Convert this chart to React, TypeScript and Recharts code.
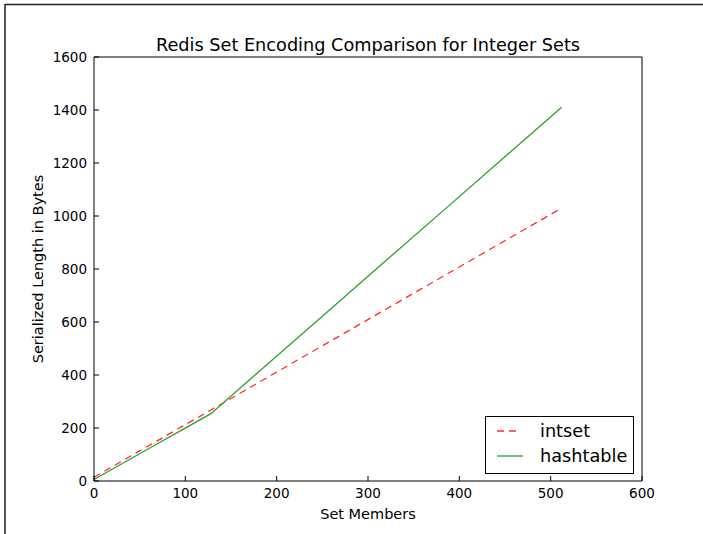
import React from 'react';
import { LineChart, Line, XAxis, YAxis, Legend } from 'recharts';

const intsetMembers = [0, 16, 32, 48, 64, 80, 96, 112, 128, 192, 256, 320, 384, 448, 512];
const intsetBytes = [14, 46, 78, 110, 141, 173, 205, 236, 268, 395, 522, 649, 776, 903, 1030];
const hashtableMembers = [0, 32, 64, 96, 128, 192, 256, 320, 384, 448, 512];
const hashtableBytes = [6, 68, 130, 192, 254, 447, 640, 833, 1025, 1218, 1410];
const xTicks = [0, 100, 200, 300, 400, 500, 600];
const yTicks = [0, 200, 400, 600, 800, 1000, 1200, 1400, 1600];
const seriesNames = ['intset', 'hashtable'];

const title = 'Redis Set Encoding Comparison for Integer Sets';
const xLabel = 'Set Members';
const yLabel = 'Serialized Length in Bytes';

const RED = '#ff2a2a';
const GREEN = '#2ca02c';
const FONT = '"DejaVu Sans", Verdana, sans-serif';

const intsetData = intsetMembers.map((m, i) => ({ members: m, bytes: intsetBytes[i] }));
const hashtableData = hashtableMembers.map((m, i) => ({ members: m, bytes: hashtableBytes[i] }));

const LegendBox = () => (
  <svg width={150} height={59} style={{ display: 'block' }}>
    <rect x={0.5} y={0.5} width={148} height={57} fill="#fff" stroke="#000" strokeWidth={1} />
    <line x1={12} x2={36} y1={15} y2={15} stroke={RED} strokeWidth={1.3} strokeDasharray="7 5" />
    <text x={55} y={15} dominantBaseline="central" fontSize={17.7} fontFamily={FONT} fill="#000">
      {seriesNames[0]}
    </text>
    <line x1={12} x2={38} y1={40} y2={40} stroke={GREEN} strokeWidth={1.3} />
    <text x={55} y={40} dominantBaseline="central" fontSize={17.7} fontFamily={FONT} fill="#000">
      {seriesNames[1]}
    </text>
  </svg>
);

const tickStyle = { fontSize: 13.5, fontFamily: FONT, fill: '#000' };

export default function App() {
  return (
    <div style={{ position: 'absolute', left: 0, top: 0, width: 703, height: 534, background: '#fff' }}>
      <LineChart
        width={703}
        height={534}
        margin={{ top: 27, right: 31, left: 0, bottom: 0 }}
        style={{ fontFamily: FONT }}
      >
        <XAxis
          xAxisId="x"
          dataKey="members"
          type="number"
          domain={[0, 600]}
          ticks={xTicks}
          allowDataOverflow
          height={53}
          tickSize={-5}
          tickMargin={12}
          stroke="#000"
          tick={tickStyle}
        />
        <XAxis
          xAxisId="xt"
          orientation="top"
          type="number"
          domain={[0, 600]}
          ticks={xTicks}
          allowDataOverflow
          height={30}
          tickSize={-5}
          tick={false}
          stroke="#000"
        />
        <YAxis
          yAxisId="y"
          type="number"
          domain={[0, 1600]}
          ticks={yTicks}
          allowDataOverflow
          width={94}
          tickSize={-5}
          tickMargin={12}
          stroke="#000"
          tick={tickStyle}
        />
        <YAxis
          yAxisId="yr"
          orientation="right"
          type="number"
          domain={[0, 1600]}
          ticks={yTicks}
          allowDataOverflow
          width={30}
          tickSize={-5}
          tick={false}
          stroke="#000"
        />
        <Line
          xAxisId="x"
          yAxisId="y"
          data={intsetData}
          dataKey="bytes"
          name={seriesNames[0]}
          type="linear"
          stroke={RED}
          strokeWidth={1.3}
          strokeDasharray="7 5"
          dot={false}
          isAnimationActive={false}
        />
        <Line
          xAxisId="x"
          yAxisId="y"
          data={hashtableData}
          dataKey="bytes"
          name={seriesNames[1]}
          type="linear"
          stroke={GREEN}
          strokeWidth={1.3}
          dot={false}
          isAnimationActive={false}
        />
        <Legend
          layout="horizontal"
          verticalAlign="middle"
          align="center"
          content={() => <LegendBox />}
          wrapperStyle={{ position: 'absolute', left: 485, top: 416, width: 150, height: 59 }}
        />
      </LineChart>
      <svg
        width={703}
        height={534}
        style={{ position: 'absolute', left: 0, top: 0, pointerEvents: 'none' }}
      >
        <line x1={5} x2={703} y1={4.5} y2={4.5} stroke="#222" strokeWidth={1.5} />
        <line x1={5} x2={5} y1={4} y2={534} stroke="#222" strokeWidth={1.5} />
        <text x={368} y={51} textAnchor="middle" fontSize={17.7} fontFamily={FONT} fill="#000">
          {title}
        </text>
        <text x={368} y={519} textAnchor="middle" fontSize={14.5} fontFamily={FONT} fill="#000">
          {xLabel}
        </text>
        <text
          x={0}
          y={0}
          transform="translate(42.5 269) rotate(-90)"
          textAnchor="middle"
          fontSize={14.5}
          fontFamily={FONT}
          fill="#000"
        >
          {yLabel}
        </text>
      </svg>
    </div>
  );
}
